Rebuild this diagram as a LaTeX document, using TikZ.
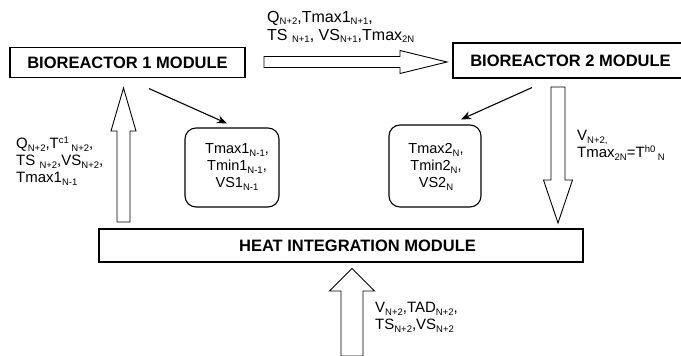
\documentclass[tikz,border=0pt]{standalone}
\usepackage{fontspec}
\setmainfont{Liberation Sans}
\usetikzlibrary{calc,arrows.meta}
\newcommand{\lo}[1]{\raisebox{-2.5pt}{\fontsize{9.5}{10}\selectfont #1}}
\newcommand{\hi}[1]{\raisebox{5.5pt}{\fontsize{9.5}{10}\selectfont #1}}
\tikzset{
  module/.style={draw, line width=1.1pt, inner sep=0pt, font=\fontsize{16.5}{18}\selectfont\bfseries},
  roundbox/.style={draw, line width=1.1pt, rounded corners=11pt, inner sep=0pt},
  boxtext/.style={align=center, inner sep=0pt, font=\fontsize{14.5}{17}\selectfont},
  flow/.style={align=left, inner sep=0pt, anchor=west, font=\fontsize{15}{17}\selectfont},
  fat/.style={draw, line width=0.9pt, fill=white, line join=miter},
  link/.style={-{Stealth[length=10pt,width=8pt]}, line width=1.1pt},
}
\begin{document}
\begin{tikzpicture}[x=1pt,y=-1pt]
\useasboundingbox (0,0) rectangle (681,356);
\clip (0,0) rectangle (681,356);

\node[module, minimum width=235pt, minimum height=30pt] (b1) at (127.5,62.5) {BIOREACTOR 1 MODULE};
\node[module, minimum width=235pt, minimum height=35pt] (b2) at (570.5,60.5) {BIOREACTOR 2 MODULE};
\node[module, minimum width=484pt, minimum height=33pt] (him) at (341,245.5) {};
\node[module, draw=none] (himtext) at (357.5,245.5) {HEAT INTEGRATION MODULE};

\node[roundbox, minimum width=94pt, minimum height=79pt] (r1) at (232,167.5) {};
\node[boxtext] (r1text) at (237,167) {Tmax1\lo{N-1},\\Tmin1\lo{N-1},\\VS1\lo{N-1}};
\node[roundbox, minimum width=92pt, minimum height=82pt] (r2) at (435,166) {};
\node[boxtext] (r2text) at (436,167) {Tmax2\lo{N},\\Tmin2\lo{N},\\VS2\lo{N}};

\coordinate (a1t) at (264,62);
\coordinate (a1h) at (447,62);
\coordinate (a2t) at (123.5,222);
\coordinate (a2h) at (123.5,88);
\coordinate (a3t) at (558,87);
\coordinate (a3h) at (558,223);
\coordinate (a4t) at (352,356);
\coordinate (a4h) at (352,268.5);

\draw[fat] (a1t) ++(0,-5.5) -- ++(136,0) -- ++(0,-6) -- (a1h) -- ++(-47,11.5) -- ++(0,-6) -- ++(-136,0) -- cycle;
\draw[fat] (a2t) ++(-6.5,0) -- ++(0,-91) -- ++(-6,0) -- (a2h) -- ++(12.5,43) -- ++(-6,0) -- ++(0,91) -- cycle;
\draw[fat] (a3t) ++(-7,0) -- ++(0,93) -- ++(-7.5,0) -- (a3h) -- ++(14.5,-43) -- ++(-7.5,0) -- ++(0,-93) -- cycle;
\draw[fat] (a4t) ++(-11,0) -- ++(0,-65) -- ++(-11.5,0) -- (a4h) -- ++(22.5,22.5) -- ++(-11.5,0) -- ++(0,65) -- cycle;

\draw[link] ($(b1.south)+(21.5,10.5)$) -- ($(r1.north)+(-5,-4)$);
\draw[link] ($(b2.south)+(-38.5,9)$) -- ($(r2.north)+(26,-5)$);

\node[flow, font=\fontsize{16}{18}\selectfont] (toplbl) at (267,27) {Q\lo{N+2},Tmax1\lo{N+1},\\TS \lo{N+1}, VS\lo{N+1},Tmax\lo{2N}};
\node[flow] (leftlbl) at (16,161) {Q\lo{N+2},T\hi{c1}\,\lo{N+2},\\TS \lo{N+2},VS\lo{N+2},\\Tmax1\lo{N-1}};
\node[flow] (rightlbl) at (577,145.5) {V\lo{N+2,}\\Tmax\lo{2N}=T\hi{h0}\,\lo{N}};
\node[flow] (botlbl) at (375,317.5) {V\lo{N+2},TAD\lo{N+2},\\TS\lo{N+2},VS\lo{N+2}};
\end{tikzpicture}
\end{document}
